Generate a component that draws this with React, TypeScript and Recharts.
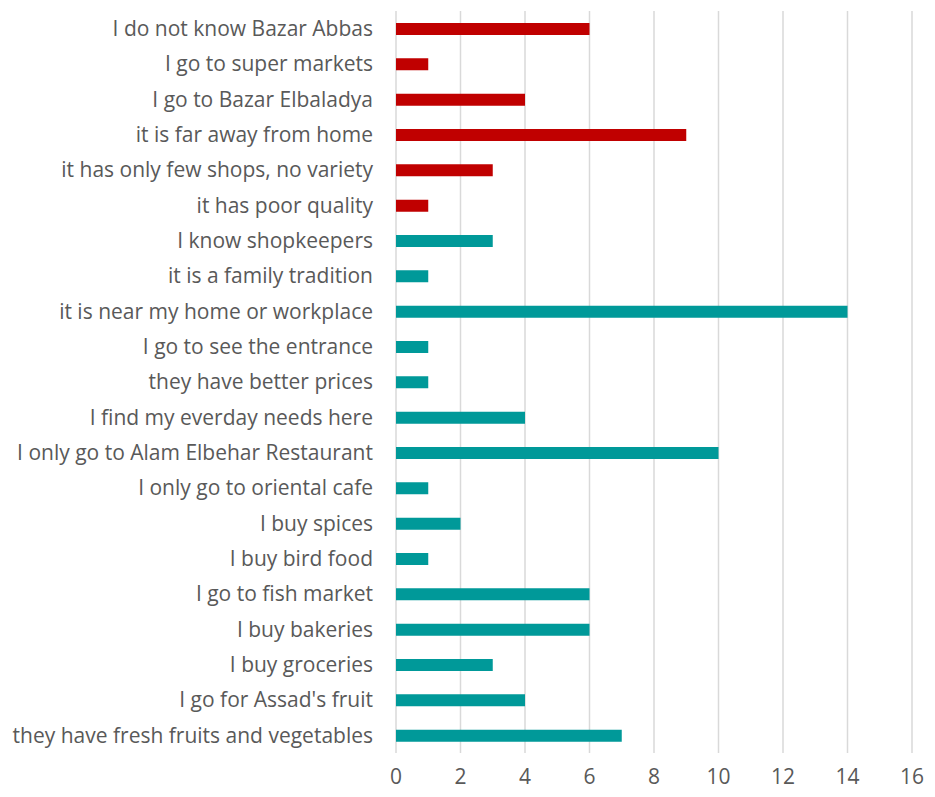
import React from 'react';
import { BarChart, Bar, XAxis, YAxis, CartesianGrid, Cell } from 'recharts';

const reasons = [
  'I do not know Bazar Abbas',
  'I go to super markets',
  'I go to Bazar Elbaladya',
  'it is far away from home',
  'it has only few shops, no variety',
  'it has poor quality',
  'I know shopkeepers',
  'it is a family tradition',
  'it is near my home or workplace',
  'I go to see the entrance',
  'they have better prices',
  'I find my everday needs here',
  'I only go to Alam Elbehar Restaurant',
  'I only go to oriental cafe',
  'I buy spices',
  'I buy bird food',
  'I go to fish market',
  'I buy bakeries',
  'I buy groceries',
  "I go for Assad's fruit",
  'they have fresh fruits and vegetables',
];

const counts = [6, 1, 4, 9, 3, 1, 3, 1, 14, 1, 1, 4, 10, 1, 2, 1, 6, 6, 3, 4, 7];

// first six answers are reasons against going
const negative = [true, true, true, true, true, true, false, false, false, false, false, false, false, false, false, false, false, false, false, false, false];

const xTicks = [0, 2, 4, 6, 8, 10, 12, 14, 16];

const data = reasons.map((r, i) => ({ reason: r, count: counts[i], neg: negative[i] }));

export default function App() {
  return (
    <div style={{ position: 'absolute', left: 0, top: 0, background: '#fff', fontFamily: '"Open Sans", sans-serif' }}>
      <BarChart
        width={935}
        height={797}
        data={data}
        layout="vertical"
        margin={{ top: 11, right: 23, bottom: 14, left: 0 }}
      >
        <CartesianGrid horizontal={false} stroke="#d9d9d9" strokeWidth={1.5} />
        <XAxis
          type="number"
          domain={[0, 16]}
          ticks={xTicks}
          height={30}
          axisLine={false}
          tickLine={false}
          tickSize={0}
          tickMargin={16}
          tick={{ fill: '#595959', fontSize: 21 }}
        />
        <YAxis
          type="category"
          dataKey="reason"
          width={396}
          axisLine={false}
          tickLine={false}
          tickSize={0}
          tickMargin={23}
          interval={0}
          tick={{ fill: '#595959', fontSize: 21 }}
        />
        <Bar dataKey="count" barSize={12} isAnimationActive={false}>
          {data.map((d, i) => (
            <Cell key={i} fill={d.neg ? '#c00000' : '#009999'} />
          ))}
        </Bar>
      </BarChart>
    </div>
  );
}
